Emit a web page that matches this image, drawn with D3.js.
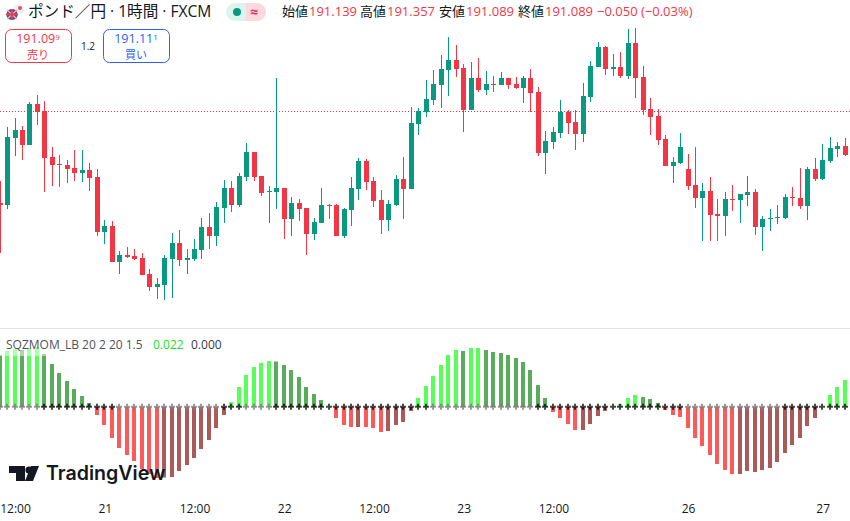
<!DOCTYPE html>
<html>
<head>
<meta charset="utf-8">
<script src="https://cdnjs.cloudflare.com/ajax/libs/d3/7.8.5/d3.min.js"></script>
<style>
  html, body { margin: 0; padding: 0; background: #fff; overflow: hidden; }
  text { font-family: "Open Sans", "Noto Sans CJK JP", sans-serif; }
</style>
</head>
<body>
<div id="chart"></div>
<script>
const opens = [190.635,190.625,190.96,191.00,190.925,191.13,191.095,190.865,190.83,190.825,190.81,190.785,190.80,190.765,190.49,190.52,190.34,190.375,190.37,190.36,190.28,190.215,190.225,190.355,190.435,190.35,190.355,190.40,190.515,190.47,190.61,190.71,190.625,190.765,190.89,190.77,190.69,190.69,190.71,190.555,190.635,190.61,190.48,190.535,190.625,190.625,190.47,190.60,190.705,190.845,190.745,190.65,190.55,190.625,190.755,190.705,191.03,191.09,191.15,191.225,191.30,191.35,191.31,191.10,191.26,191.20,191.23,191.225,191.26,191.23,191.21,191.26,191.19,190.885,190.94,190.985,191.09,191.04,190.98,191.165,191.315,191.415,191.305,191.315,191.27,191.435,191.265,191.105,191.07,190.955,190.82,190.835,190.805,190.725,190.66,190.695,190.58,190.57,190.655,190.65,190.675,190.69,190.515,190.555,190.56,190.56,190.665,190.66,190.62,190.805,190.755,190.845,190.905,190.92]
const closes = [190.625,190.965,191.00,190.925,191.13,191.09,190.86,190.825,190.825,190.805,190.785,190.80,190.76,190.49,190.52,190.34,190.375,190.365,190.355,190.275,190.215,190.23,190.36,190.435,190.35,190.36,190.405,190.515,190.47,190.615,190.71,190.625,190.77,190.89,190.765,190.685,190.695,190.71,190.555,190.635,190.605,190.48,190.54,190.625,190.62,190.47,190.605,190.71,190.845,190.74,190.645,190.55,190.63,190.755,190.705,191.035,191.095,191.155,191.23,191.305,191.35,191.305,191.10,191.26,191.20,191.23,191.225,191.26,191.225,191.21,191.26,191.185,190.885,190.945,190.99,191.09,191.035,190.98,191.17,191.32,191.415,191.305,191.315,191.27,191.435,191.26,191.10,191.065,190.95,190.82,190.84,190.915,190.72,190.66,190.695,190.575,190.57,190.655,190.65,190.68,190.69,190.515,190.555,190.56,190.565,190.665,190.66,190.62,190.805,190.755,190.85,190.91,190.92,190.875]
const highs = [190.745,191.015,191.06,191.02,191.14,191.175,191.145,190.915,190.875,190.85,190.90,190.90,190.835,190.805,190.55,190.545,190.395,190.415,190.405,190.385,190.305,190.26,190.375,190.485,190.50,190.405,190.455,190.56,190.585,190.64,190.75,190.745,190.785,190.935,190.89,190.77,190.72,191.26,190.71,190.665,190.655,190.61,190.56,190.71,190.63,190.63,190.61,190.765,190.86,190.855,190.765,190.70,190.65,190.775,190.865,191.115,191.11,191.25,191.30,191.375,191.465,191.425,191.33,191.34,191.36,191.295,191.27,191.29,191.26,191.265,191.27,191.305,191.215,190.995,191.015,191.15,191.10,191.10,191.235,191.345,191.44,191.42,191.38,191.39,191.505,191.51,191.32,191.16,191.105,190.975,190.865,190.985,190.88,190.915,190.735,190.765,190.655,190.69,190.725,190.68,190.77,190.705,190.57,190.605,190.625,190.68,190.715,190.81,190.815,190.86,190.93,190.965,190.94,190.96]
const lows = [190.385,190.605,190.87,190.85,190.925,191.025,190.69,190.72,190.715,190.735,190.745,190.74,190.695,190.47,190.43,190.34,190.28,190.36,190.35,190.275,190.195,190.155,190.15,190.16,190.32,190.28,190.345,190.355,190.405,190.42,190.535,190.59,190.615,190.745,190.745,190.67,190.535,190.605,190.455,190.47,190.545,190.375,190.45,190.535,190.555,190.47,190.46,190.52,190.65,190.70,190.615,190.48,190.495,190.62,190.555,190.705,190.975,191.065,191.125,191.11,191.17,191.265,190.99,191.10,191.19,191.175,191.19,191.225,191.205,191.205,191.135,191.09,190.87,190.78,190.905,190.96,190.98,190.90,190.94,191.14,191.315,191.275,191.27,191.26,191.255,191.16,191.075,190.975,190.925,190.82,190.735,190.83,190.70,190.61,190.445,190.445,190.445,190.47,190.595,190.535,190.62,190.475,190.395,190.495,190.53,190.555,190.62,190.605,190.55,190.745,190.75,190.835,190.865,190.87]
const lastPrice = 191.093

// momentum histogram, state per bar: l=lime d=green r=red m=maroon
const momValues = [0.26,0.28,0.29,0.285,0.295,0.30,0.265,0.215,0.17,0.13,0.09,0.055,0.02,-0.04,-0.09,-0.155,-0.205,-0.24,-0.27,-0.31,-0.335,-0.355,-0.3525,-0.35,-0.32,-0.29,-0.255,-0.21,-0.165,-0.105,-0.04,0.025,0.10,0.16,0.20,0.22,0.23,0.2275,0.21,0.185,0.15,0.10,0.065,0.035,0,-0.055,-0.09,-0.10,-0.10,-0.10,-0.105,-0.125,-0.12,-0.09,-0.075,-0.02,0.045,0.105,0.155,0.21,0.26,0.285,0.28,0.295,0.295,0.285,0.275,0.27,0.26,0.245,0.225,0.185,0.11,0.045,-0.025,-0.055,-0.085,-0.115,-0.115,-0.085,-0.045,-0.02,0,0.015,0.045,0.06,0.05,0.04,0.02,-0.015,-0.04,-0.05,-0.105,-0.155,-0.195,-0.24,-0.285,-0.315,-0.335,-0.335,-0.32,-0.325,-0.315,-0.305,-0.275,-0.23,-0.19,-0.155,-0.095,-0.055,0,0.06,0.10,0.135]
const momStates = ["d","l","l","d","l","l","d","d","d","d","d","d","d","r","r","r","r","r","r","r","r","r","m","m","m","m","m","m","m","m","m","l","l","l","l","l","l","d","d","d","d","d","d","d","d","r","r","r","m","r","r","r","m","m","m","m","l","l","l","l","l","l","d","l","l","d","d","d","d","d","d","d","d","d","r","r","r","r","m","m","m","m","m","l","l","l","d","d","d","r","r","r","r","r","r","r","r","r","r","m","m","m","m","m","m","m","m","m","m","m","m","l","l","l"]
// squeeze dots on the zero line: 1=black 0=gray
const squeeze = [0,0,0,0,0,0,1,1,1,1,1,1,1,1,1,1,0,0,0,0,0,0,0,0,0,0,0,0,0,0,1,1,1,0,0,0,0,1,1,1,1,1,1,1,1,1,1,1,1,1,1,1,1,1,1,1,1,1,0,0,0,0,0,0,0,0,0,0,0,0,0,0,1,1,1,1,1,1,1,1,1,1,1,1,1,1,1,1,1,1,1,1,0,0,0,0,0,0,0,0,0,0,0,0,0,1,1,1,1,1,1,1,1,1]

const tickBars = [2,14,26,38,50,62,74,92,110]
const tickLabels = ["12:00","21","12:00","22","12:00","23","12:00","26","27"]

const upColor = "#089981"
const downColor = "#f23645"
const momColors = {l:"#00ff00", d:"#008000", r:"#ff0000", m:"#800000"}

const width = 850
const height = 521

const svg = d3.select("#chart")
              .append("svg")
              .attr("width", width)
              .attr("height", height)
              .style("display", "block")

const x = d3.scaleLinear().domain([0, 113]).range([0.06, 845.06])
const y = d3.scaleLinear().domain([191.65, 189.05]).range([0, 520])
const yMom = d3.scaleLinear().domain([-0.5, 0.5]).range([507, 307])

const col = (i)=> Math.floor(x(i))
const bars = d3.range(opens.length)

// price line
svg.append("line")
   .attr("x1", 0).attr("x2", width)
   .attr("y1", Math.floor(y(lastPrice)) + 0.5).attr("y2", Math.floor(y(lastPrice)) + 0.5)
   .attr("stroke", downColor)
   .attr("stroke-dasharray", "1 2")

// candles
const candle = svg.append("g").selectAll("g")
                  .data(bars)
                  .enter()
                  .append("g")
                  .attr("fill", (i)=> closes[i] >= opens[i] ? upColor : downColor)
candle.append("rect")
      .attr("x", (i)=> col(i))
      .attr("width", 1)
      .attr("y", (i)=> Math.round(y(highs[i])))
      .attr("height", (i)=> Math.round(y(lows[i])) - Math.round(y(highs[i])))
candle.append("rect")
      .attr("x", (i)=> col(i) - 2)
      .attr("width", 5)
      .attr("y", (i)=> Math.round(y(Math.max(opens[i], closes[i]))))
      .attr("height", (i)=> Math.max(1, Math.round(y(Math.min(opens[i], closes[i]))) - Math.round(y(Math.max(opens[i], closes[i])))))

// pane separator
svg.append("rect")
   .attr("x", 0).attr("y", 328)
   .attr("width", width).attr("height", 1)
   .attr("fill", "#e0e3eb")

// momentum histogram
svg.append("g").selectAll("rect")
   .data(bars)
   .enter()
   .append("rect")
   .attr("x", (i)=> col(i) - 2)
   .attr("width", 4)
   .attr("y", (i)=> Math.min(yMom(momValues[i]), yMom(0)))
   .attr("height", (i)=> Math.abs(yMom(momValues[i]) - yMom(0)))
   .attr("fill", (i)=> momColors[momStates[i]])
   .attr("fill-opacity", 0.65)

// squeeze crosses
svg.append("g").selectAll("path")
   .data(bars)
   .enter()
   .append("path")
   .attr("d", d3.symbol().type(d3.symbolCross).size(20))
   .attr("transform", (i)=> `translate(${col(i)},${yMom(0) - 0.3})`)
   .attr("fill", (i)=> squeeze[i] ? "#000" : "#808080")
   .attr("fill-opacity", (i)=> squeeze[i] ? 0.72 : 0.8)

// time axis
const xAxis = d3.axisBottom(x)
                .tickValues(tickBars)
                .tickFormat((d, i)=> tickLabels[i])
                .tickSize(0)
const axisG = svg.append("g").attr("transform", "translate(0,501)").call(xAxis)
axisG.select(".domain").remove()
axisG.selectAll("text")
     .style("font-size", "12px")
     .style("font-family", '"Open Sans", sans-serif')
     .attr("fill", "#131722")

// indicator legend
svg.append("rect")
   .attr("x", 0).attr("y", 337)
   .attr("width", 228).attr("height", 19)
   .attr("fill", "#fff").attr("fill-opacity", 0.5)
const addText = (txt, tx, ty, size, fill, weight)=>{
    return svg.append("text")
              .attr("x", tx).attr("y", ty)
              .attr("font-size", size)
              .attr("fill", fill)
              .attr("font-weight", weight || 400)
              .text(txt)
}
addText("SQZMOM_LB 20 2 20 1.5", 6, 349, 12, "#50535e")
addText("0.022", 153, 349, 12, "#22e022")
addText("0.000", 191, 349, 12, "#363a45")

// watermark
const logo = svg.append("g").attr("fill", "#131722")
logo.append("path").attr("d", "M9 466H25V481H16V473H9Z")
logo.append("circle").attr("cx", 29).attr("cy", 470).attr("r", 3.6)
logo.append("path").attr("d", "M31 466H39L33 481H25Z")
svg.append("text")
   .attr("x", 46).attr("y", 480)
   .attr("font-size", 19.6)
   .attr("font-weight", 600)
   .attr("fill", "#131722")
   .style("font-family", "Inter, sans-serif")
   .text("TradingView")

// header
const flag = svg.append("g")
flag.append("circle").attr("cx", 19).attr("cy", 9).attr("r", 5).attr("fill", "#eeeeee")
flag.append("circle").attr("cx", 20).attr("cy", 8).attr("r", 2).attr("fill", "#e8505b")
flag.append("circle").attr("cx", 12).attr("cy", 14.5).attr("r", 6).attr("fill", "#3f4f9c").attr("stroke", "#fff")
flag.append("path").attr("d", "M7 10L17 19M17 10L7 19").attr("stroke", "#f3b5b8").attr("stroke-width", 1.4)
flag.append("path").attr("d", "M12 9V20M6 14.5H18").attr("stroke", "#e0444f").attr("stroke-width", 2)

addText("ポンド／円 · 1時間 · FXCM", 28, 17, 15.6, "#131722")

svg.append("rect").attr("x", 226).attr("y", 3).attr("width", 40).attr("height", 18).attr("rx", 9).attr("fill", "#dcf3ee")
svg.append("path").attr("d", "M246 3H257A9 9 0 0 1 257 21H246Z").attr("fill", "#fbd9e1")
svg.append("circle").attr("cx", 237).attr("cy", 12).attr("r", 4).attr("fill", "#089981")
addText("≈", 250, 17, 14, "#e8315c", 700)

const ohlcLabels = ["始値","高値","安値","終値"]
const ohlcValues = ["191.139","191.357","191.089","191.089"]
const ohlcX = [282,360,439,518]
ohlcLabels.forEach((d, i)=>{
    addText(d, ohlcX[i], 16, 13, "#131722")
    addText(ohlcValues[i], ohlcX[i] + 27, 16, 13, downColor)
})
addText("−0.050 (−0.03%)", 597, 16, 13, downColor)

// sell and buy boxes
const quote = (bx, bw, color, price, small, label)=>{
    svg.append("rect")
       .attr("x", bx + 0.5).attr("y", 29.5)
       .attr("width", bw).attr("height", 33)
       .attr("rx", 6)
       .attr("fill", "#fff")
       .attr("stroke", color)
    const t = svg.append("text")
                 .attr("x", bx + bw / 2).attr("y", 43)
                 .attr("text-anchor", "middle")
                 .attr("font-size", 12.5)
                 .attr("font-weight", 500)
                 .attr("fill", color)
    t.append("tspan").text(price)
    t.append("tspan").attr("font-size", 8).attr("dy", -3).text(small)
    addText(label, bx + bw / 2, 59, 11, color).attr("text-anchor", "middle")
}
quote(5, 66, downColor, "191.09", "9", "売り")
quote(103, 66, "#2962ff", "191.11", "1", "買い")
addText("1.2", 88, 50, 10, "#131722").attr("text-anchor", "middle")
</script>
</body>
</html>
